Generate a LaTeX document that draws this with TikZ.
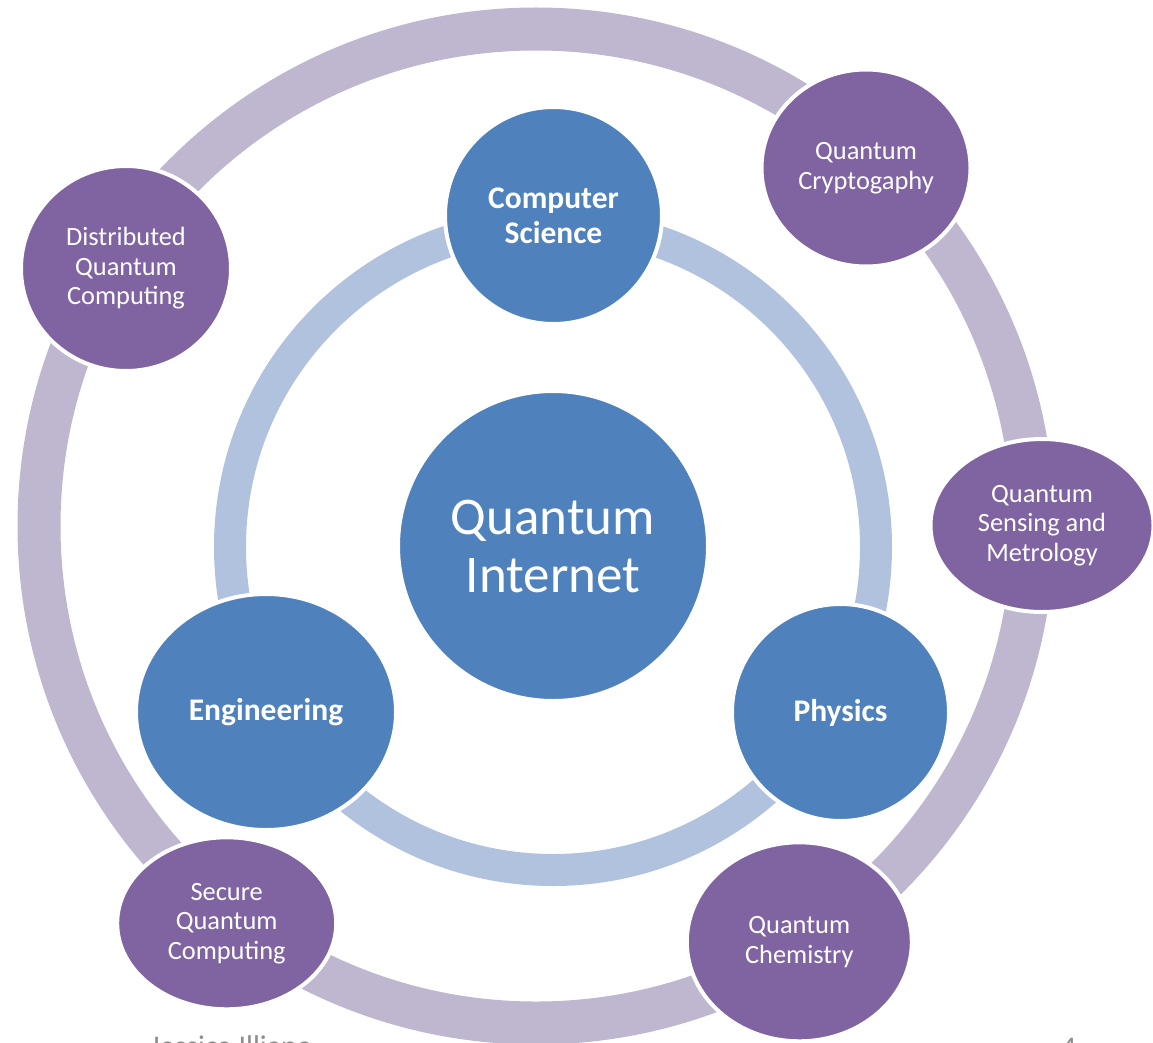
\documentclass[tikz,border=0pt]{standalone}
\usepackage{fontspec}
\setmainfont{Carlito}
\usetikzlibrary{shapes.geometric}
\definecolor{hubblue}{HTML}{4F81BD}
\definecolor{areapurple}{HTML}{8064A2}
\definecolor{innerband}{HTML}{B0C2DE}
\definecolor{outerband}{HTML}{BFB7CF}
\definecolor{footgray}{HTML}{8C8C8C}

\begin{document}
\begin{tikzpicture}[x=1pt, y=-1pt,
  hub/.style={circle, fill=hubblue, draw=white, line width=4pt, text=white,
    inner sep=0pt, align=center, font=\fontsize{53}{58}\selectfont},
  discipline/.style={ellipse, fill=hubblue, draw=white, line width=4pt, text=white,
    inner sep=0pt, align=center, font=\fontsize{31.5}{35}\selectfont\bfseries},
  application/.style={ellipse, fill=areapurple, draw=white, line width=4pt, text=white,
    inner sep=0pt, align=center, font=\fontsize{26.4}{29.5}\selectfont},
  footer/.style={anchor=base west, inner sep=0pt, text=footgray,
    font=\fontsize{30}{36}\selectfont}
]
\useasboundingbox (0,0) rectangle (1153,1043);
\clip (0,0) rectangle (1153,1043);

% rings behind the nodes
\draw[outerband, line width=43pt] (536,526) circle[radius=497];
\draw[innerband, line width=32pt] (553,547) circle[radius=323];

% centre
\node[hub, minimum size=310pt] (qi) at (553,546) {Quantum\\Internet};

% disciplines on the inner ring
\node[discipline, minimum width=217pt, minimum height=217pt] (cs) at (553.5,215.5) {Computer\\Science};
\node[discipline, minimum width=260pt, minimum height=236pt] (eng) at (266,712) {Engineering};
\node[discipline, minimum width=217pt, minimum height=217pt] (phys) at (840.5,712.5) {Physics};

% applications on the outer ring
\node[application, minimum width=210pt, minimum height=205pt] (dqc) at (126,268.5) {Distributed\\Quantum\\Computing};
\node[application, minimum width=209pt, minimum height=197pt] (crypto) at (866,168) {Quantum\\Cryptogaphy};
\node[application, minimum width=223pt, minimum height=173pt] (sensing) at (1042,525.5) {Quantum\\Sensing and\\Metrology};
\node[application, minimum width=225pt, minimum height=199pt] (chem) at (799.3,941.8) {Quantum\\Chemistry};
\node[application, minimum width=219pt, minimum height=172pt] (sqc) at (226.7,923.3) {Secure\\Quantum\\Computing};

% footer line, cut by the lower edge
\node[footer] (author) at (150,1056) {Jessica Illiano};
\node[footer] (page) at (1061,1057) {4};
\end{tikzpicture}
\end{document}
